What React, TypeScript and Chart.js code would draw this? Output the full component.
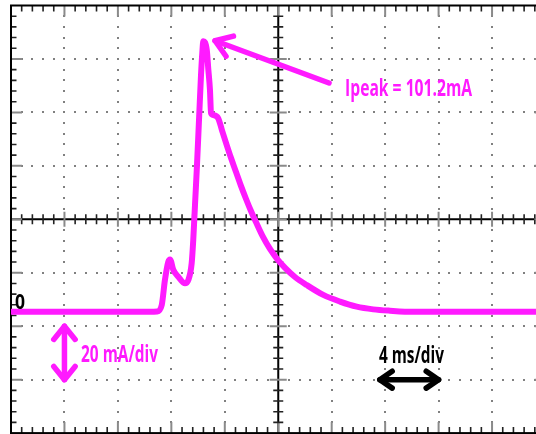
import React, { useEffect, useRef } from "react";
import { Chart, registerables } from "chart.js";

Chart.register(...registerables);

// Time in ms (4 ms/div, 10 divisions) and current in mA (20 mA/div)
const timeMs = [0, 10.4, 10.93, 11.28, 11.52, 11.77, 11.9, 12.15, 12.52, 13.02, 13.27, 13.52, 13.64, 13.77, 13.92, 14.07, 14.22, 14.32, 14.39, 14.65, 14.77, 14.89, 14.97, 15.14, 15.51, 15.79, 16.09, 16.46, 16.84, 17.21, 17.59, 17.96, 18.33, 18.86, 19.38, 19.91, 20.51, 21.25, 22.13, 23.37, 24.62, 25.87, 27.11, 28.36, 30.11, 40];
const currentMa = [0, 0, 0.1, 2.5, 11.9, 18.7, 19.6, 15.6, 13.1, 10.7, 11.9, 18.1, 26.9, 40.0, 55.0, 71.8, 88.6, 97.2, 101.2, 98.0, 90.5, 83.0, 74.3, 73.6, 72.4, 67.9, 63.2, 57.6, 52.3, 47.1, 42.2, 37.7, 33.6, 28.0, 23.5, 19.8, 16.4, 13.0, 10.0, 6.3, 3.8, 1.9, 0.9, 0.4, 0, 0];

const xMin = 0;
const xMax = 40;
const xDiv = 4; // ms/div
const yMin = -45.4;
const yMax = 114.6;
const yDiv = 20; // mA/div
const subDivs = 5;

const peakLabel = "Ipeak = 101.2mA";
const voltLabel = "20 mA/div";
const timeLabel = "4 ms/div";
const zeroLabel = "0";

const TRACE = "#ff1aff";
const FONT = "'Open Sans', 'DejaVu Sans', sans-serif";

function arrowHead(ctx: CanvasRenderingContext2D, tx: number, ty: number, dirAngle: number, spread: number, len: number) {
  ctx.beginPath();
  ctx.moveTo(tx + Math.cos(dirAngle - spread) * len, ty + Math.sin(dirAngle - spread) * len);
  ctx.lineTo(tx, ty);
  ctx.lineTo(tx + Math.cos(dirAngle + spread) * len, ty + Math.sin(dirAngle + spread) * len);
  ctx.stroke();
}

const scopeGrid = {
  id: "scopeGrid",
  beforeDatasetsDraw(chart: any) {
    const ctx: CanvasRenderingContext2D = chart.ctx;
    const xs = chart.scales.x;
    const ys = chart.scales.y;
    const { left, right, top, bottom } = chart.chartArea;
    const nx = Math.round((xMax - xMin) / xDiv);
    const ny = Math.round((yMax - yMin) / yDiv);
    const cx = xs.getPixelForValue(xMin + (nx / 2) * xDiv);
    const cy = ys.getPixelForValue(yMin + (ny / 2) * yDiv);
    ctx.save();
    // dotted grid
    ctx.fillStyle = "#808080";
    for (let k = 1; k < nx; k++) {
      if (k === nx / 2) continue;
      const px = xs.getPixelForValue(xMin + k * xDiv);
      for (let j = 1; j < ny * subDivs; j++) {
        const py = ys.getPixelForValue(yMin + (j * yDiv) / subDivs);
        ctx.fillRect(Math.round(px) - 1, Math.round(py) - 1, 2, 2);
      }
    }
    for (let k = 1; k < ny; k++) {
      if (k === ny / 2) continue;
      const py = ys.getPixelForValue(yMin + k * yDiv);
      for (let j = 1; j < nx * subDivs; j++) {
        const px = xs.getPixelForValue(xMin + (j * xDiv) / subDivs);
        ctx.fillRect(Math.round(px) - 1, Math.round(py) - 1, 2, 2);
      }
    }
    // center axes
    ctx.strokeStyle = "#000";
    ctx.lineWidth = 2;
    ctx.beginPath();
    ctx.moveTo(left, cy);
    ctx.lineTo(right, cy);
    ctx.moveTo(cx, top);
    ctx.lineTo(cx, bottom);
    ctx.stroke();
    // ticks on center axes and edges
    for (let j = 1; j < nx * subDivs; j++) {
      const px = xs.getPixelForValue(xMin + (j * xDiv) / subDivs);
      const major = j % subDivs === 0;
      ctx.strokeStyle = major ? "#8a8a8a" : "#222";
      ctx.lineWidth = major ? 2 : 1.6;
      const h = major ? 7.5 : 5;
      const e = major ? 11 : 6;
      ctx.beginPath();
      ctx.moveTo(px, cy - h);
      ctx.lineTo(px, cy + h);
      ctx.moveTo(px, top);
      ctx.lineTo(px, top + e);
      ctx.moveTo(px, bottom);
      ctx.lineTo(px, bottom - e);
      ctx.stroke();
    }
    for (let j = 1; j < ny * subDivs; j++) {
      const py = ys.getPixelForValue(yMin + (j * yDiv) / subDivs);
      const major = j % subDivs === 0;
      ctx.strokeStyle = major ? "#8a8a8a" : "#222";
      ctx.lineWidth = major ? 2 : 1.6;
      const h = major ? 8.5 : 5;
      const e = major ? 11 : 5.5;
      ctx.beginPath();
      ctx.moveTo(cx - h, py);
      ctx.lineTo(cx + h, py);
      ctx.moveTo(left, py);
      ctx.lineTo(left + e, py);
      ctx.moveTo(right, py);
      ctx.lineTo(right - e, py);
      ctx.stroke();
    }
    // frame
    ctx.strokeStyle = "#000";
    ctx.lineWidth = 2;
    ctx.strokeRect(left, top, right - left, bottom - top);
    ctx.restore();
  },
  afterDatasetsDraw(chart: any) {
    const ctx: CanvasRenderingContext2D = chart.ctx;
    const xs = chart.scales.x;
    const ys = chart.scales.y;
    const X = (v: number) => xs.getPixelForValue(v);
    const Y = (v: number) => ys.getPixelForValue(v);
    ctx.save();
    ctx.lineCap = "round";
    ctx.lineJoin = "round";

    // peak arrow
    ctx.strokeStyle = TRACE;
    ctx.lineWidth = 5.5;
    const tipX = X(15.27), tipY = Y(101.4);
    const tailX = X(23.8), tailY = Y(85.6);
    ctx.beginPath();
    ctx.moveTo(tailX, tailY);
    ctx.lineTo(tipX, tipY);
    ctx.stroke();
    arrowHead(ctx, tipX, tipY, Math.atan2(tailY - tipY, tailX - tipX), 0.6, 19);

    // vertical 20 mA/div arrow
    const vx = X(4);
    const vTop = Y(yMin + 2 * yDiv);
    const vBot = Y(yMin + yDiv);
    ctx.beginPath();
    ctx.moveTo(vx, vTop);
    ctx.lineTo(vx, vBot);
    ctx.stroke();
    arrowHead(ctx, vx, vTop, Math.PI / 2, 0.68, 17);
    arrowHead(ctx, vx, vBot, -Math.PI / 2, 0.68, 17);

    // horizontal 4 ms/div arrow
    ctx.strokeStyle = "#000";
    const hy = Y(yMin + yDiv);
    const hl = X(27.6), hr = X(32);
    ctx.beginPath();
    ctx.moveTo(hl, hy);
    ctx.lineTo(hr, hy);
    ctx.stroke();
    arrowHead(ctx, hl, hy, 0, 0.6, 15);
    arrowHead(ctx, hr, hy, Math.PI, 0.6, 15);

    // labels (condensed to the reference widths)
    ctx.textBaseline = "alphabetic";
    ctx.textAlign = "left";
    ctx.fillStyle = TRACE;
    ctx.font = `bold 23px ${FONT}`;
    ctx.fillText(peakLabel, X(25.0), Y(80.6), 127);
    ctx.fillText(voltLabel, X(5.24), Y(-18.9), 77);
    ctx.fillStyle = "#000";
    ctx.fillText(timeLabel, X(27.54), Y(-19.2), 65);
    ctx.font = `bold 22px ${FONT}`;
    ctx.fillText(zeroLabel, X(0.3), Y(1.0), 10);
    ctx.restore();
  },
};

export default function App() {
  const ref = useRef<HTMLCanvasElement | null>(null);
  useEffect(() => {
    if (!ref.current) return;
    const chart = new Chart(ref.current, {
      type: "line",
      data: {
        datasets: [
          {
            data: timeMs.map((t, i) => ({ x: t, y: currentMa[i] })),
            borderColor: TRACE,
            borderWidth: 6,
            pointRadius: 0,
            cubicInterpolationMode: "monotone",
            borderJoinStyle: "round",
            borderCapStyle: "round",
            fill: false,
          },
        ],
      },
      options: {
        animation: false,
        responsive: false,
        devicePixelRatio: 1,
        layout: { padding: { left: 11, top: 5.5, right: 14.5, bottom: 0.9 } },
        plugins: { legend: { display: false }, tooltip: { enabled: false } },
        scales: {
          x: { type: "linear", min: xMin, max: xMax, display: false },
          y: { type: "linear", min: yMin, max: yMax, display: false },
        },
      },
      plugins: [scopeGrid],
    });
    return () => chart.destroy();
  }, []);
  return (
    <div style={{ position: "fixed", left: 0, top: 0, width: 536, height: 434, overflow: "hidden", background: "#fff" }}>
      <canvas ref={ref} width={560} height={434} style={{ display: "block" }} />
    </div>
  );
}
